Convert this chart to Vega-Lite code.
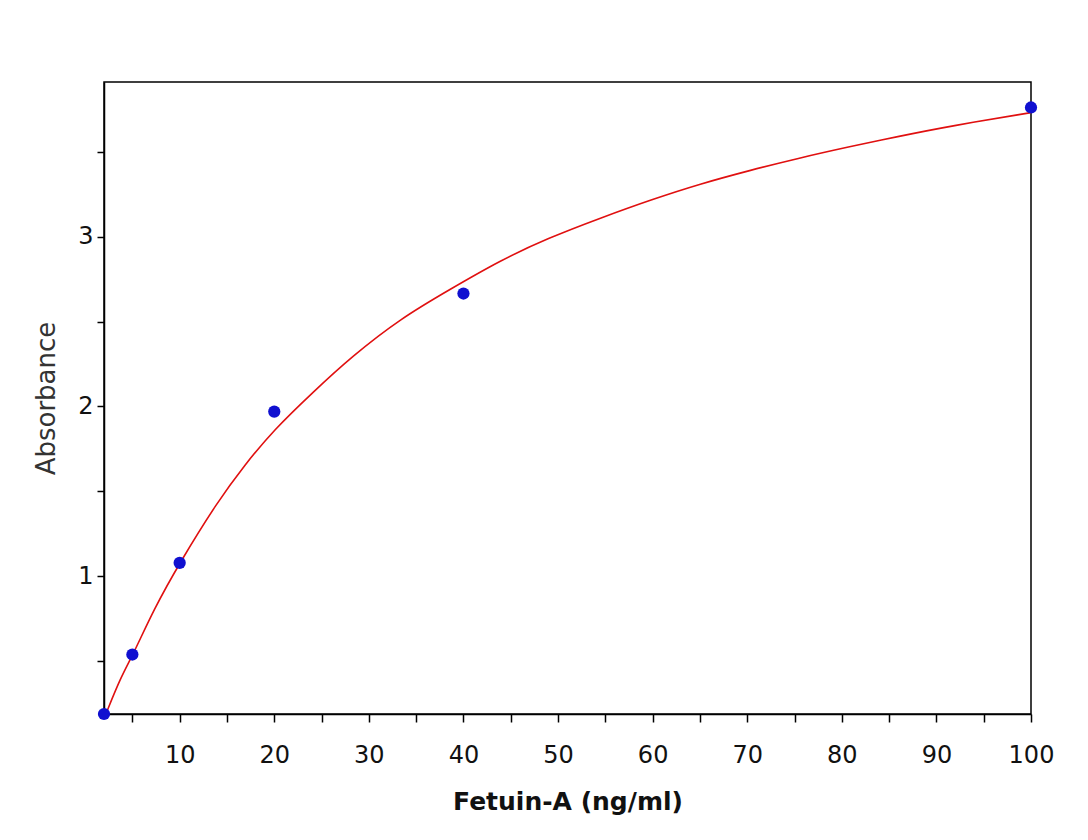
{
  "$schema": "https://vega.github.io/schema/vega-lite/v6.json",
  "width": 927,
  "height": 632,
  "autosize": {"type": "none"},
  "padding": {"left": 104, "top": 82, "right": 57, "bottom": 126},
  "background": "white",
  "config": {
    "view": {"stroke": "#000000", "strokeWidth": 1.5},
    "axis": {
      "grid": false,
      "domainColor": "#000000",
      "domainWidth": 1.5,
      "tickColor": "#000000",
      "tickWidth": 1.5,
      "labelFont": "DejaVu Sans",
      "labelFontSize": 24,
      "labelColor": "#111111",
      "titleFont": "DejaVu Sans",
      "titleColor": "#111111"
    }
  },
  "datasets": {
    "points": [
      {"conc": 2, "abs": 0.19},
      {"conc": 5, "abs": 0.54},
      {"conc": 10, "abs": 1.08},
      {"conc": 20, "abs": 1.97},
      {"conc": 40, "abs": 2.665},
      {"conc": 100, "abs": 3.76}
    ],
    "curve": [
      {"conc": 2.2, "abs": 0.19},
      {"conc": 3.8, "abs": 0.41},
      {"conc": 5, "abs": 0.53},
      {"conc": 7.3, "abs": 0.81},
      {"conc": 10, "abs": 1.08},
      {"conc": 14, "abs": 1.44},
      {"conc": 16.8, "abs": 1.65},
      {"conc": 19.9, "abs": 1.86},
      {"conc": 24.2, "abs": 2.09},
      {"conc": 28.1, "abs": 2.29},
      {"conc": 33.4, "abs": 2.52},
      {"conc": 38.6, "abs": 2.69},
      {"conc": 43.9, "abs": 2.86},
      {"conc": 48.9, "abs": 2.99},
      {"conc": 54.5, "abs": 3.11},
      {"conc": 60, "abs": 3.22},
      {"conc": 65, "abs": 3.31},
      {"conc": 70.3, "abs": 3.39},
      {"conc": 75.3, "abs": 3.46},
      {"conc": 80.9, "abs": 3.53},
      {"conc": 86, "abs": 3.59},
      {"conc": 91.4, "abs": 3.65},
      {"conc": 100, "abs": 3.73}
    ]
  },
  "encoding": {
    "x": {
      "field": "conc",
      "type": "quantitative",
      "scale": {"domain": [2, 100], "nice": false, "zero": false},
      "axis": {
        "title": "Fetuin-A (ng/ml)",
        "titleFont": "DejaVu Sans",
        "titleFontWeight": "bold",
        "titleFontSize": 25,
        "titlePadding": 22,
        "values": [5, 10, 15, 20, 25, 30, 35, 40, 45, 50, 55, 60, 65, 70, 75, 80, 85, 90, 95, 100],
        "labelExpr": "datum.value % 10 == 0 ? datum.label : ''",
        "tickSize": 8,
        "labelPadding": 21,
        "labelFlush": false,
        "labelOverlap": false
      }
    },
    "y": {
      "field": "abs",
      "type": "quantitative",
      "scale": {"domain": [0.19, 3.91], "nice": false, "zero": false},
      "axis": {
        "title": "Absorbance",
        "titleFontWeight": "normal",
        "titleFontSize": 26,
        "titleColor": "#333333",
        "titlePadding": 18,
        "values": [0.5, 1, 1.5, 2, 2.5, 3, 3.5],
        "labelExpr": "datum.value % 1 == 0 ? format(datum.value, 'd') : ''",
        "tickSize": 7,
        "labelPadding": 4,
        "labelFlush": false,
        "labelOverlap": false
      }
    }
  },
  "layer": [
    {
      "data": {"name": "curve"},
      "mark": {"type": "line", "color": "#e01010", "strokeWidth": 1.6, "interpolate": "basis", "clip": true}
    },
    {
      "data": {"name": "points"},
      "mark": {"type": "point", "shape": "circle", "filled": true, "color": "#1010d0", "opacity": 1, "size": 150}
    }
  ]
}
